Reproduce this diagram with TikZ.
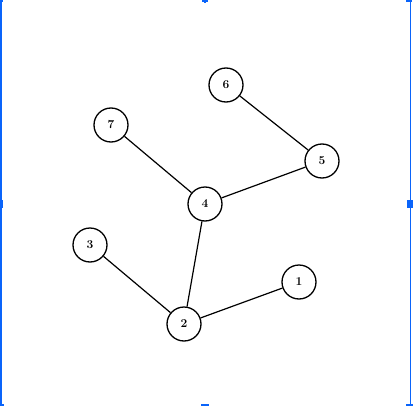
\documentclass[tikz,border=0pt]{standalone}
\begin{document}
\begin{tikzpicture}[x=1pt,y=-1pt,
  vtx/.style={circle,draw=black,line width=1.3pt,fill=white,minimum size=34pt,inner sep=0pt,font=\bfseries\fontsize{12}{14}\selectfont},
  edge/.style={draw=black,line width=1.2pt},
  sel/.style={draw=selblue,line width=1.5pt},
  hdl/.style={fill=selblue}]
\definecolor{selblue}{RGB}{10,100,250}
\useasboundingbox (0,0) rectangle (413,407);
% selection frame
\draw[sel] (1,2) -- (1,405);
\draw[sel] (410.5,1) -- (410.5,404);
\fill[hdl] (0,0) rectangle (3,1.5);
\fill[hdl] (406,0) rectangle (412,1.5);
\fill[hdl] (202,0) rectangle (208,1.5);
\fill[hdl] (204,1.5) rectangle (206,3);
\fill[hdl] (0,200) rectangle (3,208);
\fill[hdl] (407,200) rectangle (413,208);
\fill[hdl] (0,404) rectangle (4,406);
\fill[hdl] (406,404) rectangle (413,406);
\fill[hdl] (201,404) rectangle (209,406);
% nodes
\node[vtx] (n6) at (226,85) {6};
\node[vtx] (n7) at (111,125) {7};
\node[vtx] (n5) at (322,161) {5};
\node[vtx] (n4) at (205,204) {4};
\node[vtx] (n3) at (90,245) {3};
\node[vtx] (n1) at (299,282) {1};
\node[vtx] (n2) at (184,324) {2};
% edges
\draw[edge] (n6) -- (n5);
\draw[edge] (n7) -- (n4);
\draw[edge] (n5) -- (n4);
\draw[edge] (n4) -- (n2);
\draw[edge] (n3) -- (n2);
\draw[edge] (n1) -- (n2);
\end{tikzpicture}
\end{document}
